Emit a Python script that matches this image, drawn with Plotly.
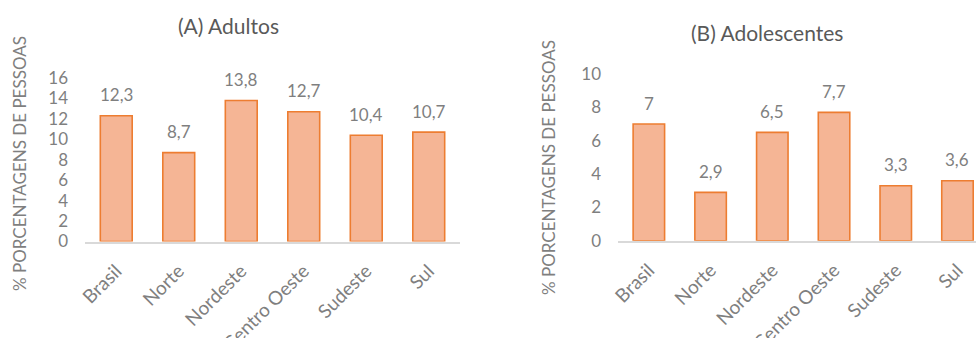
import plotly.graph_objects as go

# Regional prevalence (%), adults and adolescents
regioes = ["Brasil", "Norte", "Nordeste", "Centro Oeste", "Sudeste", "Sul"]
adultos = [12.3, 8.7, 13.8, 12.7, 10.4, 10.7]
adolescentes = [7, 2.9, 6.5, 7.7, 3.3, 3.6]

titulo_a = "(A) Adultos"
titulo_b = "(B) Adolescentes"
eixo_y = "% PORCENTAGENS DE PESSOAS"

FONT = "Lato, Open Sans, sans-serif"
GRAY = "#7f7f7f"
DARK = "#595959"
FILL = "#f5b595"
EDGE = "#ed7d31"


def fmt(v):
    return f"{v:g}".replace(".", ",")


fig = go.Figure()
fig.add_trace(go.Bar(x=regioes, y=adultos, xaxis="x", yaxis="y",
                     marker=dict(color=FILL, line=dict(color=EDGE, width=1.6)),
                     hoverinfo="x+y"))
fig.add_trace(go.Bar(x=regioes, y=adolescentes, xaxis="x2", yaxis="y2",
                     marker=dict(color=FILL, line=dict(color=EDGE, width=1.6)),
                     hoverinfo="x+y"))

annotations = []
for xr, yr, vals in (("x", "y", adultos), ("x2", "y2", adolescentes)):
    for r, v in zip(regioes, vals):
        annotations.append(dict(x=r, y=v, xref=xr, yref=yr, text=fmt(v),
                                showarrow=False, yshift=21,
                                xanchor="center", yanchor="middle",
                                font=dict(family=FONT, size=17, color=GRAY)))

W, H = 976, 338


def paper_note(px, py, text, size, color, angle=0):
    return dict(x=px / W, y=1 - py / H, xref="paper", yref="paper", text=text,
                xanchor="center", yanchor="middle", textangle=angle,
                showarrow=False, font=dict(family=FONT, size=size, color=color))


annotations += [
    paper_note(228, 25, titulo_a, 21, DARK),
    paper_note(767, 33, titulo_b, 21, DARK),
    paper_note(19, 164, eixo_y, 17, GRAY, -90),
    paper_note(548, 168, eixo_y, 17, GRAY, -90),
]

xcommon = dict(type="category", showgrid=False, zeroline=False, showline=True,
               linecolor="#d9d9d9", linewidth=2, ticks="", tickangle=-45,
               tickfont=dict(family=FONT, size=19, color=GRAY), ticklabelstandoff=9,
               automargin=False, fixedrange=True)
ycommon = dict(showgrid=False, zeroline=False, showline=False, ticks="", dtick=2,
               tickfont=dict(family=FONT, size=17, color=GRAY), ticklabelstandoff=16,
               automargin=False, fixedrange=True)

fig.update_layout(
    width=W, height=H,
    margin=dict(l=0, r=0, t=0, b=0, autoexpand=False),
    paper_bgcolor="white", plot_bgcolor="white",
    showlegend=False, bargap=0.49,
    xaxis=dict(domain=[85 / W, 460 / W], anchor="y", range=[-0.5, 5.5], **xcommon),
    yaxis=dict(domain=[1 - 241.5 / H, 1 - 78 / H], anchor="x", range=[0, 16], **ycommon),
    xaxis2=dict(domain=[618 / W, 1.0], anchor="y2", range=[-0.5, 5.3], **xcommon),
    yaxis2=dict(domain=[1 - 240.7 / H, 1 - 74 / H], anchor="x2", range=[0, 10], **ycommon),
    annotations=annotations,
)

fig.write_html("out.html")
